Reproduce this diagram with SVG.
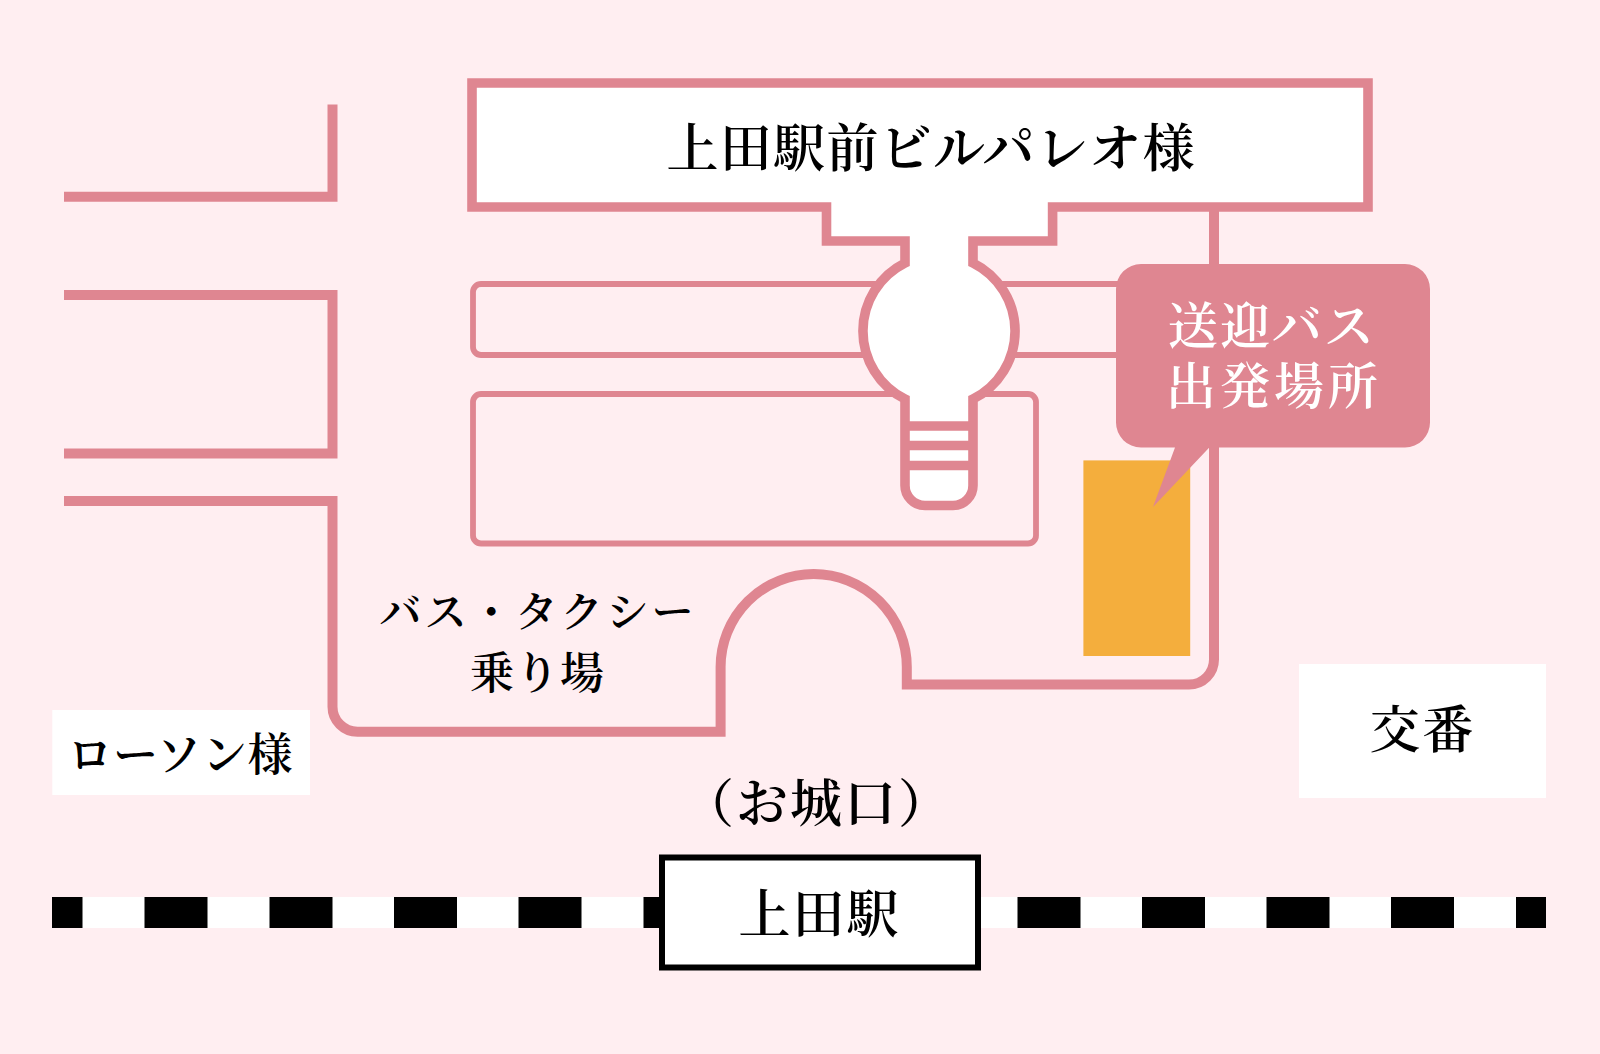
<svg xmlns="http://www.w3.org/2000/svg" width="1600" height="1054" viewBox="0 0 1600 1054">
<style>
.road{fill:none;stroke:#df8691;stroke-width:10;stroke-linejoin:miter}
.thin{fill:none;stroke:#df8691;stroke-width:5.8}
.bld{fill:#fff;stroke:#df8691;stroke-width:9.6;stroke-linejoin:miter}
.bar{stroke:#df8691;stroke-width:9.6}
.box{fill:#fff}
.tie{fill:#000}
text{font-family:"Noto Serif CJK JP","Noto Sans CJK JP",serif;fill:#000;text-anchor:middle;font-weight:600}
</style>
<rect width="1600" height="1054" fill="#ffeef1"/>
<g id="connectors">
<path class="road" d="M64 196.8H332.5V104.5"/>
<path class="road" d="M64 295H332.5V453.5H64"/>
<path class="road" d="M64 501H332.5V706.7A25 25 0 0 0 357.5 731.7H720.6V667A93.1 93 0 0 1 906.8 667V684.5H1189A25 25 0 0 0 1214 659.5V207"/>
</g>
<g id="platform-1"><rect class="thin" x="473" y="284" width="680" height="71" rx="8"/></g>
<g id="platform-2"><rect class="thin" x="473" y="394" width="563" height="149.5" rx="8"/></g>
<g id="palreo">
<path class="bld" d="M472 83H1368V207H1052.6V241H973V263A76 76 0 0 1 973 399V485.5A20 20 0 0 1 953 505.5H925A20 20 0 0 1 905 485.5V399A76 76 0 0 1 905 263V241H826.5V207H472Z"/>
<line class="bar" x1="905" x2="973" y1="426" y2="426"/>
<line class="bar" x1="905" x2="973" y1="445.5" y2="445.5"/>
<line class="bar" x1="905" x2="973" y1="465.5" y2="465.5"/>
<text x="930.5" y="167" font-size="52" textLength="528">上田駅前ビルパレオ様</text>
</g>
<g id="bus-stop"><rect x="1083.4" y="460.4" width="106.8" height="195.6" fill="#f4ae3d"/></g>
<g id="callout">
<path d="M1141 264H1405A25 25 0 0 1 1430 289V422.5A25 25 0 0 1 1405 447.5H1209.3L1153 507L1175 447.5H1141A25 25 0 0 1 1116 422.5V289A25 25 0 0 1 1141 264Z" fill="#df8691"/>
<text font-size="50" style="fill:#fff"><tspan x="1271" y="344" textLength="206">送迎バス</tspan><tspan x="1272" y="404" textLength="212">出発場所</tspan></text>
</g>
<g id="taxi-label">
<text x="536.5" y="627" font-size="42" textLength="314">バス・タクシー</text>
<text x="537" y="689" font-size="44" textLength="134">乗り場</text>
</g>
<g id="lawson">
<rect class="box" x="52.3" y="710" width="257.7" height="85"/>
<text x="180" y="771" font-size="45" textLength="225">ローソン様</text>
</g>
<g id="koban">
<rect class="box" x="1299" y="664" width="247" height="134"/>
<text x="1421.5" y="748" font-size="51" textLength="104">交番</text>
</g>
<g id="exit-label"><text x="816" y="822" font-size="52" textLength="268">（お城口）</text></g>
<g id="rail">
<rect class="box" x="52" y="897" width="1494" height="31"/>
<rect class="tie" x="52" y="897" width="30.5" height="31"/>
<rect class="tie" x="144.5" y="897" width="63" height="31"/>
<rect class="tie" x="269.5" y="897" width="63" height="31"/>
<rect class="tie" x="394" y="897" width="63" height="31"/>
<rect class="tie" x="518.5" y="897" width="63" height="31"/>
<rect class="tie" x="643.5" y="897" width="20" height="31"/>
<rect class="tie" x="1017.5" y="897" width="63" height="31"/>
<rect class="tie" x="1142" y="897" width="63" height="31"/>
<rect class="tie" x="1266.5" y="897" width="63" height="31"/>
<rect class="tie" x="1391" y="897" width="63" height="31"/>
<rect class="tie" x="1516" y="897" width="30" height="31"/>
</g>
<g id="ueda-station">
<rect x="662" y="857.5" width="316" height="110" fill="#fff" stroke="#000" stroke-width="6"/>
<text x="818.5" y="933" font-size="52" textLength="160">上田駅</text>
</g>
</svg>
